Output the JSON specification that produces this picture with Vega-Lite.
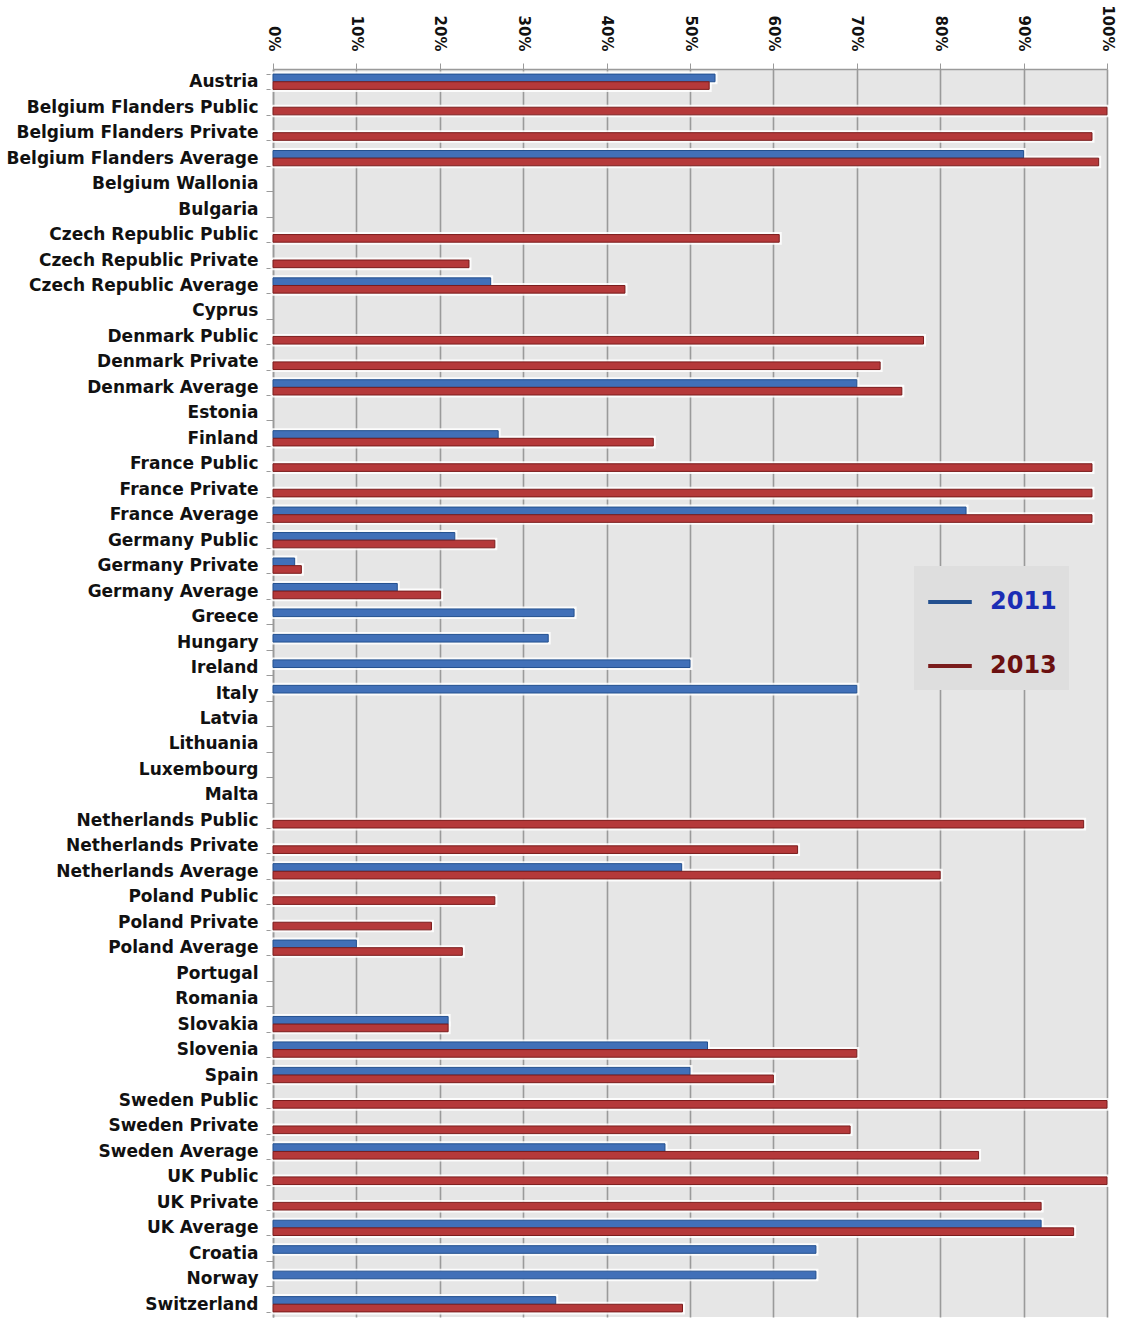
{
  "$schema": "https://vega.github.io/schema/vega-lite/v6.json",
  "width": 834,
  "height": 1248,
  "autosize": "none",
  "padding": {"left": 273, "top": 69, "right": 28, "bottom": 3},
  "background": "white",
  "config": {"view": {"fill": "#e6e6e6", "stroke": null}, "font": "Open Sans"},
  "data": {"values": [
    {"country": "Austria", "year": "2011", "value": 53},
    {"country": "Austria", "year": "2013", "value": 52.3},
    {"country": "Belgium Flanders Public", "year": "2013", "value": 100},
    {"country": "Belgium Flanders Private", "year": "2013", "value": 98.2},
    {"country": "Belgium Flanders Average", "year": "2011", "value": 90},
    {"country": "Belgium Flanders Average", "year": "2013", "value": 99},
    {"country": "Czech Republic Public", "year": "2013", "value": 60.7},
    {"country": "Czech Republic Private", "year": "2013", "value": 23.5},
    {"country": "Czech Republic Average", "year": "2011", "value": 26.1},
    {"country": "Czech Republic Average", "year": "2013", "value": 42.2},
    {"country": "Denmark Public", "year": "2013", "value": 78},
    {"country": "Denmark Private", "year": "2013", "value": 72.8},
    {"country": "Denmark Average", "year": "2011", "value": 70},
    {"country": "Denmark Average", "year": "2013", "value": 75.4},
    {"country": "Finland", "year": "2011", "value": 27},
    {"country": "Finland", "year": "2013", "value": 45.6},
    {"country": "France Public", "year": "2013", "value": 98.2},
    {"country": "France Private", "year": "2013", "value": 98.2},
    {"country": "France Average", "year": "2011", "value": 83.1},
    {"country": "France Average", "year": "2013", "value": 98.2},
    {"country": "Germany Public", "year": "2011", "value": 21.8},
    {"country": "Germany Public", "year": "2013", "value": 26.6},
    {"country": "Germany Private", "year": "2011", "value": 2.6},
    {"country": "Germany Private", "year": "2013", "value": 3.4},
    {"country": "Germany Average", "year": "2011", "value": 14.9},
    {"country": "Germany Average", "year": "2013", "value": 20.1},
    {"country": "Greece", "year": "2011", "value": 36.1},
    {"country": "Hungary", "year": "2011", "value": 33},
    {"country": "Ireland", "year": "2011", "value": 50},
    {"country": "Italy", "year": "2011", "value": 70},
    {"country": "Netherlands Public", "year": "2013", "value": 97.2},
    {"country": "Netherlands Private", "year": "2013", "value": 62.9},
    {"country": "Netherlands Average", "year": "2011", "value": 49},
    {"country": "Netherlands Average", "year": "2013", "value": 80},
    {"country": "Poland Public", "year": "2013", "value": 26.6},
    {"country": "Poland Private", "year": "2013", "value": 19},
    {"country": "Poland Average", "year": "2011", "value": 10},
    {"country": "Poland Average", "year": "2013", "value": 22.7},
    {"country": "Slovakia", "year": "2011", "value": 21},
    {"country": "Slovakia", "year": "2013", "value": 21},
    {"country": "Slovenia", "year": "2011", "value": 52.1},
    {"country": "Slovenia", "year": "2013", "value": 70},
    {"country": "Spain", "year": "2011", "value": 50},
    {"country": "Spain", "year": "2013", "value": 60},
    {"country": "Sweden Public", "year": "2013", "value": 100},
    {"country": "Sweden Private", "year": "2013", "value": 69.2},
    {"country": "Sweden Average", "year": "2011", "value": 47},
    {"country": "Sweden Average", "year": "2013", "value": 84.6},
    {"country": "UK Public", "year": "2013", "value": 100},
    {"country": "UK Private", "year": "2013", "value": 92.1},
    {"country": "UK Average", "year": "2011", "value": 92.1},
    {"country": "UK Average", "year": "2013", "value": 96},
    {"country": "Croatia", "year": "2011", "value": 65.1},
    {"country": "Norway", "year": "2011", "value": 65.1},
    {"country": "Switzerland", "year": "2011", "value": 33.9},
    {"country": "Switzerland", "year": "2013", "value": 49.1}
  ]},
  "encoding": {
    "y": {
      "field": "country", "type": "nominal",
      "scale": {
        "domain": ["Austria", "Belgium Flanders Public", "Belgium Flanders Private", "Belgium Flanders Average", "Belgium Wallonia", "Bulgaria", "Czech Republic Public", "Czech Republic Private", "Czech Republic Average", "Cyprus", "Denmark Public", "Denmark Private", "Denmark Average", "Estonia", "Finland", "France Public", "France Private", "France Average", "Germany Public", "Germany Private", "Germany Average", "Greece", "Hungary", "Ireland", "Italy", "Latvia", "Lithuania", "Luxembourg", "Malta", "Netherlands Public", "Netherlands Private", "Netherlands Average", "Poland Public", "Poland Private", "Poland Average", "Portugal", "Romania", "Slovakia", "Slovenia", "Spain", "Sweden Public", "Sweden Private", "Sweden Average", "UK Public", "UK Private", "UK Average", "Croatia", "Norway", "Switzerland"],
        "paddingInner": 0.4, "paddingOuter": 0.2
      },
      "axis": {
        "title": null, "orient": "left", "tickBand": "extent", "tickSize": 7, "tickColor": "#9a9a9a",
        "domainColor": "#9a9a9a", "domainWidth": 1.5, "labelFont": "DejaVu Sans", "labelFontSize": 17, "labelFontWeight": "bold",
        "labelColor": "#111111", "labelPadding": 8, "labelLimit": 300, "grid": false
      }
    },
    "yOffset": {"field": "year", "type": "nominal", "scale": {"domain": ["2011", "2013"], "paddingInner": 0}},
    "x": {
      "field": "value", "type": "quantitative",
      "scale": {"domain": [0, 100], "nice": false},
      "axis": {
        "title": null, "orient": "top", "values": [0, 10, 20, 30, 40, 50, 60, 70, 80, 90, 100],
        "labelExpr": "datum.value + '%'", "labelAngle": 90, "labelAlign": "right", "labelBaseline": "middle",
        "labelFont": "DejaVu Sans", "labelFontSize": 15, "labelFontWeight": "bold", "labelColor": "#111111", "labelPadding": 12,
        "tickSize": 6, "tickColor": "#9a9a9a", "domainColor": "#9a9a9a", "domainWidth": 1.5,
        "grid": true, "gridColor": "#9a9a9a", "gridWidth": 1.6
      }
    }
  },
  "layer": [
    {"mark": {"type": "bar", "fill": "white", "stroke": "white", "strokeWidth": 5, "strokeOpacity": 0.85}},
    {
      "mark": {"type": "bar", "strokeWidth": 1},
      "encoding": {
        "color": {
          "field": "year", "type": "nominal",
          "scale": {"domain": ["2011", "2013"], "range": ["#4170b8", "#b5393a"]},
          "legend": {
            "orient": "none", "legendX": 641, "legendY": 497, "title": null,
            "symbolType": "stroke", "symbolSize": 1900, "symbolStrokeWidth": 4,
            "labelFont": "DejaVu Sans", "labelFontSize": 24, "labelFontWeight": "bold", "labelOffset": 16, "rowPadding": 28,
            "fillColor": "#dedede", "padding": 12,
            "encode": {
              "symbols": {"update": {
                "stroke": {"signal": "datum.label == '2011' ? '#1c3cbf' : '#6e1616'"},
                "strokeWidth": {"value": 4},
                "fill": {"value": "transparent"}
              }},
              "labels": {"update": {
                "fill": {"signal": "datum.label == '2011' ? '#1a2db5' : '#6b1010'"}
              }}
            }
          }
        },
        "stroke": {
          "field": "year", "type": "nominal",
          "scale": {"domain": ["2011", "2013"], "range": ["#23508f", "#7a1c1c"]},
          "legend": null
        }
      }
    }
  ]
}
